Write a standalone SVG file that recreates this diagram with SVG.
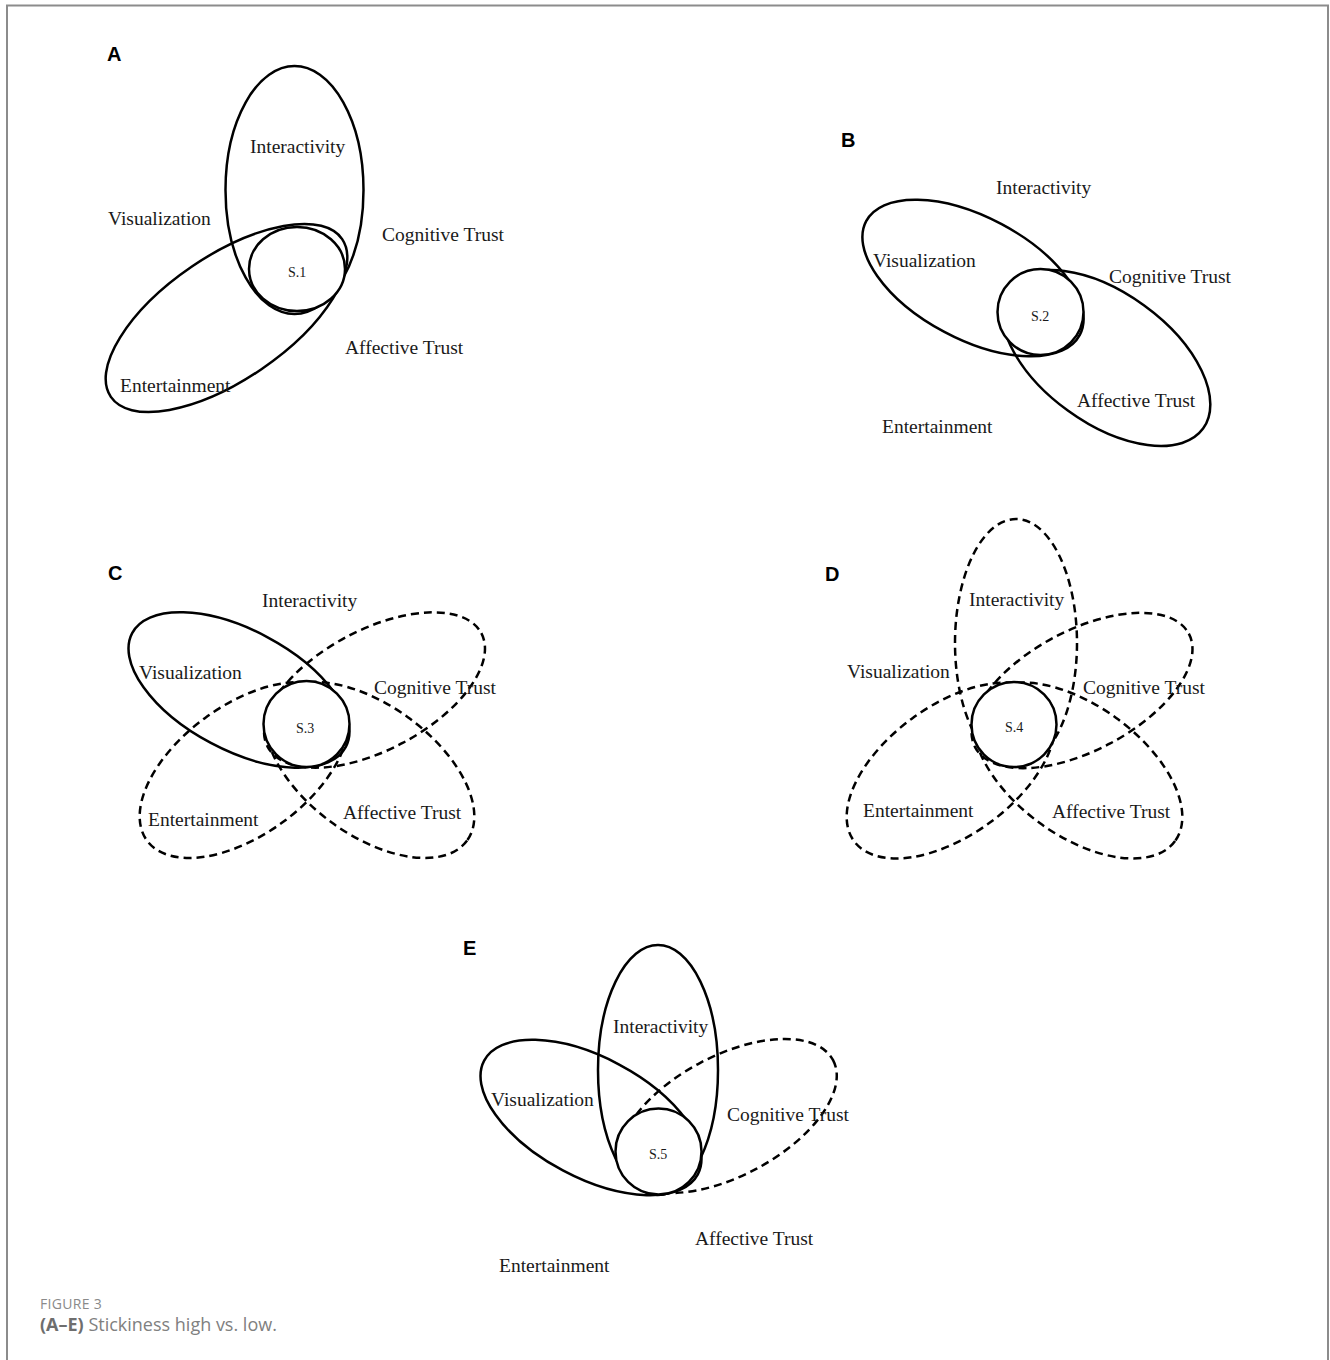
<svg xmlns="http://www.w3.org/2000/svg" width="1330" height="1360" viewBox="0 0 1330 1360">
<style>
.bg{fill:#fff}
.frame{fill:none;stroke:#8c8c8c;stroke-width:2}
.s{fill:none;stroke:#000;stroke-width:2.5}
.d{fill:none;stroke:#000;stroke-width:2.5;stroke-dasharray:8 5}
.c{fill:#fff;stroke:#000;stroke-width:2.5}
.t{font-family:"Liberation Serif","Times New Roman",serif;font-size:19.5px;fill:#1a1a1a}
.st{font-family:"Liberation Serif","Times New Roman",serif;font-size:14px;fill:#1a1a1a}
.p{font-family:"Liberation Sans",Arial,sans-serif;font-size:20px;font-weight:bold;fill:#000}
.cap1{font-family:"Open Sans","Liberation Sans",sans-serif;font-size:14px;fill:#8a8a8a;letter-spacing:0.3px}
.cap2{font-family:"Open Sans","Liberation Sans",sans-serif;font-size:18px;fill:#808080}
</style>
<rect class="bg" x="0" y="0" width="1330" height="1360"/>
<path class="frame" d="M7,1360 V5.5 H1328 V1360"/>

<g id="panelA">
  <text class="p" x="107" y="61">A</text>
  <g id="A-shapes">
    <ellipse class="s" cx="294.5" cy="190" rx="69" ry="124"/>
    <ellipse class="s" cx="0" cy="0" rx="140" ry="62" transform="translate(226.5,318) rotate(-34.3)"/>
    <ellipse class="c" cx="297" cy="269" rx="48" ry="42"/>
  </g>
  <text class="t" x="250" y="153">Interactivity</text>
  <text class="t" x="108" y="225">Visualization</text>
  <text class="t" x="382" y="241">Cognitive Trust</text>
  <text class="t" x="345" y="354">Affective Trust</text>
  <text class="t" x="120" y="392">Entertainment</text>
  <text class="st" x="288" y="277">S.1</text>
</g>

<g id="panelB">
  <text class="p" x="841" y="147">B</text>
  <g id="B-shapes">
    <ellipse class="s" cx="0" cy="0" rx="121" ry="61" transform="translate(973,278) rotate(28)"/>
    <ellipse class="s" cx="0" cy="0" rx="120" ry="65" transform="translate(1106,358) rotate(36)"/>
    <circle class="c" cx="1040.5" cy="312" r="43"/>
  </g>
  <text class="t" x="996" y="194">Interactivity</text>
  <text class="t" x="873" y="267">Visualization</text>
  <text class="t" x="1109" y="283">Cognitive Trust</text>
  <text class="t" x="1077" y="407">Affective Trust</text>
  <text class="t" x="882" y="433">Entertainment</text>
  <text class="st" x="1031" y="321">S.2</text>
</g>

<g id="panelC">
  <text class="p" x="108" y="580">C</text>
  <g id="C-shapes">
    <ellipse class="s" cx="0" cy="0" rx="121" ry="60" transform="translate(239,690) rotate(28)"/>
    <ellipse class="d" cx="0" cy="0" rx="121" ry="60" transform="translate(374.5,690) rotate(-28)"/>
    <ellipse class="d" cx="0" cy="0" rx="120" ry="65" transform="translate(244,770) rotate(-36)"/>
    <ellipse class="d" cx="0" cy="0" rx="120" ry="65" transform="translate(370,770) rotate(36)"/>
    <circle class="c" cx="306.5" cy="724" r="43"/>
  </g>
  <text class="t" x="262" y="607">Interactivity</text>
  <text class="t" x="139" y="679">Visualization</text>
  <text class="t" x="374" y="694">Cognitive Trust</text>
  <text class="t" x="343" y="819">Affective Trust</text>
  <text class="t" x="148" y="826">Entertainment</text>
  <text class="st" x="296" y="733">S.3</text>
</g>

<g id="panelD">
  <text class="p" x="825" y="581">D</text>
  <g id="D-shapes">
    <ellipse class="d" cx="1016" cy="643" rx="61" ry="124"/>
    <ellipse class="d" cx="0" cy="0" rx="121" ry="60" transform="translate(1082,690.5) rotate(-28)"/>
    <ellipse class="d" cx="0" cy="0" rx="120" ry="65" transform="translate(951,770.5) rotate(-36)"/>
    <ellipse class="d" cx="0" cy="0" rx="120" ry="65" transform="translate(1078,770.5) rotate(36)"/>
    <circle class="c" cx="1014" cy="724.5" r="42.5"/>
  </g>
  <text class="t" x="969" y="606">Interactivity</text>
  <text class="t" x="847" y="678">Visualization</text>
  <text class="t" x="1083" y="694">Cognitive Trust</text>
  <text class="t" x="863" y="817">Entertainment</text>
  <text class="t" x="1052" y="818">Affective Trust</text>
  <text class="st" x="1005" y="732">S.4</text>
</g>

<g id="panelE">
  <text class="p" x="463" y="955">E</text>
  <g id="E-shapes">
    <ellipse class="s" cx="658" cy="1070" rx="60" ry="125"/>
    <ellipse class="s" cx="0" cy="0" rx="121" ry="60" transform="translate(591,1117.5) rotate(28)"/>
    <ellipse class="d" cx="0" cy="0" rx="119" ry="60" transform="translate(728,1116) rotate(-28)"/>
    <circle class="c" cx="658.5" cy="1151.5" r="43"/>
  </g>
  <text class="t" x="613" y="1033">Interactivity</text>
  <text class="t" x="491" y="1106">Visualization</text>
  <text class="t" x="727" y="1121">Cognitive Trust</text>
  <text class="t" x="695" y="1245">Affective Trust</text>
  <text class="t" x="499" y="1272">Entertainment</text>
  <text class="st" x="649" y="1159">S.5</text>
</g>

<g id="caption">
  <text class="cap1" x="40" y="1309">FIGURE 3</text>
  <text class="cap2" x="40" y="1331"><tspan font-weight="bold" fill="#6e6e6e">(A–E)</tspan> Stickiness high vs. low.</text>
</g>
</svg>
